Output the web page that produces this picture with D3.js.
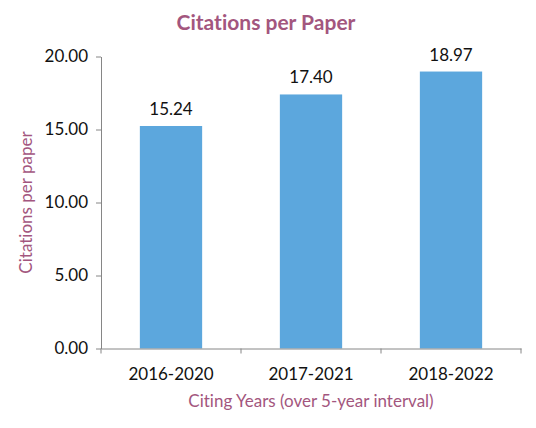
<!DOCTYPE html>
<html lang="en">
  <head>
    <meta charset="UTF-8" />
    <title>Citations per Paper</title>
    <style>
      body { margin: 0; background: #fff; }
      text { font-family: Lato, "Open Sans", sans-serif; font-variant-ligatures: none; }
      .axis path, .axis line { stroke: #868686; }
      .axis text { fill: #111; font-size: 17px; }
    </style>
  </head>
  <body>
    <script src="https://cdn.jsdelivr.net/npm/d3@7"></script>
    <script>

    // chart values
    var periods = ["2016-2020", "2017-2021", "2018-2022"];
    var citations = [15.24, 17.40, 18.97];
    var yTicks = [0, 5, 10, 15, 20];

    var w = 536, h = 428;
    var margin = { top: 56.5, right: 15, bottom: 79.5, left: 101 };

    var svg = d3.select("body").append("svg")
      .attr("width", w)
      .attr("height", h);

    var xScale = d3.scaleBand()
      .domain(periods)
      .range([margin.left, w - margin.right]);

    var yScale = d3.scaleLinear()
      .domain([0, 20])
      .range([h - margin.bottom, margin.top]);

    var barW = xScale.bandwidth() * 0.445;

    // bars
    svg.selectAll("rect.bar")
      .data(citations)
      .enter().append("rect")
      .attr("class", "bar")
      .attr("x", function(d, i) { return xScale(periods[i]) + (xScale.bandwidth() - barW) / 2; })
      .attr("y", function(d) { return yScale(d); })
      .attr("width", barW)
      .attr("height", function(d) { return yScale(0) - yScale(d); })
      .attr("fill", "#5ca7dd");

    // value labels
    svg.selectAll("text.val")
      .data(citations)
      .enter().append("text")
      .attr("class", "val")
      .attr("x", function(d, i) { return xScale(periods[i]) + xScale.bandwidth() / 2; })
      .attr("y", function(d) { return yScale(d) - 11; })
      .attr("text-anchor", "middle")
      .attr("font-size", "17px")
      .attr("fill", "#111")
      .text(function(d) { return d.toFixed(2); });

    // y axis
    var yAxis = d3.axisLeft(yScale)
      .tickValues(yTicks)
      .tickFormat(function(d) { return d.toFixed(2); })
      .tickSizeInner(5)
      .tickSizeOuter(0)
      .tickPadding(8);

    svg.append("g")
      .attr("class", "axis yaxis")
      .attr("transform", "translate(" + margin.left + ",0)")
      .call(yAxis);

    // x axis: ticks sit on the band edges
    var xAxis = d3.axisBottom(xScale)
      .tickSize(0)
      .tickPadding(19);

    var gx = svg.append("g")
      .attr("class", "axis xaxis")
      .attr("transform", "translate(0," + yScale(0) + ")")
      .call(xAxis);

    gx.selectAll(".edge")
      .data(periods.concat(["end"]))
      .enter().append("line")
      .attr("class", "edge")
      .attr("x1", function(d, i) { return i < periods.length ? xScale(d) : xScale.range()[1]; })
      .attr("x2", function(d, i) { return i < periods.length ? xScale(d) : xScale.range()[1]; })
      .attr("y1", 0)
      .attr("y2", 5);

    // title
    svg.append("text")
      .attr("x", 266)
      .attr("y", 30)
      .attr("text-anchor", "middle")
      .attr("font-size", "21px")
      .attr("font-weight", "bold")
      .attr("fill", "#a3567e")
      .text("Citations per Paper");

    // axis titles
    svg.append("text")
      .attr("transform", "translate(32," + ((margin.top + yScale(0)) / 2) + ") rotate(-90)")
      .attr("text-anchor", "middle")
      .attr("font-size", "17px")
      .attr("fill", "#a3567e")
      .text("Citations per paper");

    svg.append("text")
      .attr("x", (margin.left + w - margin.right) / 2)
      .attr("y", 407)
      .attr("text-anchor", "middle")
      .attr("font-size", "17px")
      .attr("fill", "#a3567e")
      .text("Citing Years (over 5-year interval)");

    </script>
  </body>
</html>
